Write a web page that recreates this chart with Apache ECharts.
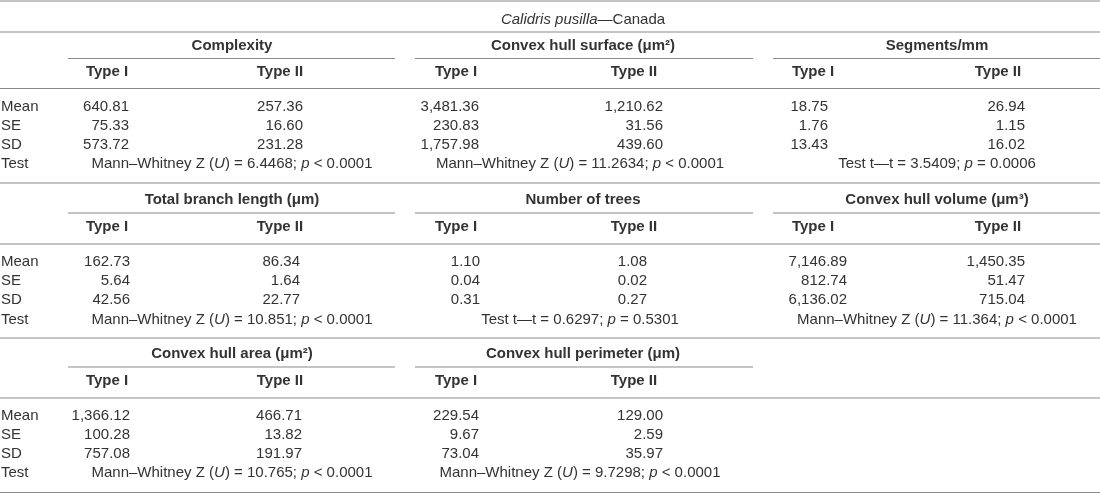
<!DOCTYPE html>
<html><head><meta charset="utf-8">
<script src="https://cdn.jsdelivr.net/npm/echarts@6/dist/echarts.min.js"></script>
<style>html,body{margin:0;padding:0;background:#fff}#c{width:1100px;height:494px}</style>
</head><body><div id="c"></div>
<script>
// ---------------- DATA ----------------
const titleSpecies = 'Calidris pusilla';
const titleRegion = 'Canada';
const rowLabels = ['Mean', 'SE', 'SD', 'Test'];
const typeLabels = ['Type I', 'Type II'];
const measures = ['Complexity', 'Convex hull surface (μm²)', 'Segments/mm',
  'Total branch length (μm)', 'Number of trees', 'Convex hull volume (μm³)',
  'Convex hull area (μm²)', 'Convex hull perimeter (μm)'];
const meanTypeI  = [640.81, 3481.36, 18.75, 162.73, 1.10, 7146.89, 1366.12, 229.54];
const meanTypeII = [257.36, 1210.62, 26.94, 86.34, 1.08, 1450.35, 466.71, 129.00];
const seTypeI    = [75.33, 230.83, 1.76, 5.64, 0.04, 812.74, 100.28, 9.67];
const seTypeII   = [16.60, 31.56, 1.15, 1.64, 0.02, 51.47, 13.82, 2.59];
const sdTypeI    = [573.72, 1757.98, 13.43, 42.56, 0.31, 6136.02, 757.08, 73.04];
const sdTypeII   = [231.28, 439.60, 16.02, 22.77, 0.27, 715.04, 191.97, 35.97];
const tests = [
  'Mann–Whitney Z ({i|U}) = 6.4468; {i|p} < 0.0001',
  'Mann–Whitney Z ({i|U}) = 11.2634; {i|p} < 0.0001',
  'Test t—t = 3.5409; {i|p} = 0.0006',
  'Mann–Whitney Z ({i|U}) = 10.851; {i|p} < 0.0001',
  'Test t—t = 0.6297; {i|p} = 0.5301',
  'Mann–Whitney Z ({i|U}) = 11.364; {i|p} < 0.0001',
  'Mann–Whitney Z ({i|U}) = 10.765; {i|p} < 0.0001',
  'Mann–Whitney Z ({i|U}) = 9.7298; {i|p} < 0.0001'
];

// ---------------- LAYOUT ----------------
const FF = '"Liberation Sans", Arial, Helvetica, sans-serif';
const FS = 15;
const TEXT = '#333333';
const RULE = '#8a8a8a';
const LAY = {
  width: 1100, height: 494,
  titleX: 583, titleY: 20,
  topRule: 1,
  // per block: [topRule, header, underline, typeRow, typeRule, mean, se, sd, test]
  blocks: [
    [32, 46, 58.5, 72, 88.5, 107, 126, 145, 164],
    [183, 200, 213, 227, 244, 262, 281, 300, 320],
    [338, 354, 367, 381, 398, 416, 435, 454, 473]
  ],
  bottomRule: 492.5,
  labelX: 1,
  groupCenter: [232, 583, 937],
  testCenter: [232, 580, 937],
  underline: [[68, 395], [415, 753], [773, 1100]],
  typeICenter: [107, 456, 813],
  typeIICenter: [280, 634, 998],
  rightI:  [129, 479, 828, 130, 480, 847, 130, 479],
  rightII: [303, 663, 1025, 300, 647, 1025, 302, 663]
};

const fmt = v => v.toLocaleString('en-US', {minimumFractionDigits: 2, maximumFractionDigits: 2});
const font = (w, s) => (s || 'normal') + ' ' + (w || 'normal') + ' ' + FS + 'px ' + FF;
const richI = { i: { font: font('normal', 'italic'), fill: TEXT } };

// ---------------- BUILD CELLS ----------------
const cells = [];
const rules = [];
cells.push({ x: LAY.titleX, y: LAY.titleY, text: '{i|' + titleSpecies + '}—' + titleRegion, align: 'center', font: font(), rich: richI });
rules.push([0, LAY.topRule, LAY.width, LAY.topRule]);

const nBlocks = Math.ceil(measures.length / 3);
for (let b = 0; b < nBlocks; b++) {
  const B = LAY.blocks[b];
  rules.push([0, B[0], LAY.width, B[0]]);
  rules.push([0, B[4], LAY.width, B[4]]);
  rowLabels.forEach((r, ri) => {
    cells.push({ x: LAY.labelX, y: B[5 + ri], text: r, align: 'left', font: font() });
  });
  for (let g = 0; g < 3; g++) {
    const m = b * 3 + g;
    if (m >= measures.length) break;
    cells.push({ x: LAY.groupCenter[g], y: B[1], text: measures[m], align: 'center', font: font('bold') });
    rules.push([LAY.underline[g][0], B[2], LAY.underline[g][1], B[2]]);
    cells.push({ x: LAY.typeICenter[g], y: B[3], text: typeLabels[0], align: 'center', font: font('bold') });
    cells.push({ x: LAY.typeIICenter[g], y: B[3], text: typeLabels[1], align: 'center', font: font('bold') });
    const colI = [meanTypeI[m], seTypeI[m], sdTypeI[m]];
    const colII = [meanTypeII[m], seTypeII[m], sdTypeII[m]];
    for (let r = 0; r < 3; r++) {
      cells.push({ x: LAY.rightI[m], y: B[5 + r], text: fmt(colI[r]), align: 'right', font: font() });
      cells.push({ x: LAY.rightII[m], y: B[5 + r], text: fmt(colII[r]), align: 'right', font: font() });
    }
    cells.push({ x: LAY.testCenter[g], y: B[8], text: tests[m], align: 'center', font: font(), rich: richI });
  }
}
rules.push([0, LAY.bottomRule, LAY.width, LAY.bottomRule]);

// ---------------- CHART ----------------
const chart = echarts.init(document.getElementById('c'), null, { renderer: 'canvas' });
chart.setOption({
  animation: false,
  backgroundColor: '#ffffff',
  grid: { left: 0, right: 0, top: 0, bottom: 0 },
  xAxis: { type: 'value', min: 0, max: LAY.width, show: false },
  yAxis: { type: 'value', min: 0, max: LAY.height, inverse: true, show: false },
  series: [
    {
      type: 'custom', name: 'rules', silent: true,
      data: rules,
      renderItem: (params, api) => {
        const p1 = api.coord([api.value(0), api.value(1)]);
        const p2 = api.coord([api.value(2), api.value(3)]);
        return { type: 'line', shape: { x1: p1[0], y1: p1[1], x2: p2[0], y2: p2[1] },
          style: { stroke: RULE, lineWidth: 1.2 } };
      }
    },
    {
      type: 'custom', name: 'cells', silent: true,
      data: cells.map((c, i) => [c.x, c.y, i]),
      renderItem: (params, api) => {
        const c = cells[api.value(2)];
        const p = api.coord([api.value(0), api.value(1)]);
        const style = { text: c.text, x: p[0], y: p[1], align: c.align, verticalAlign: 'middle', font: c.font, fill: TEXT };
        if (c.rich) style.rich = c.rich;
        return { type: 'text', style: style };
      }
    }
  ]
});
</script>
</body></html>
